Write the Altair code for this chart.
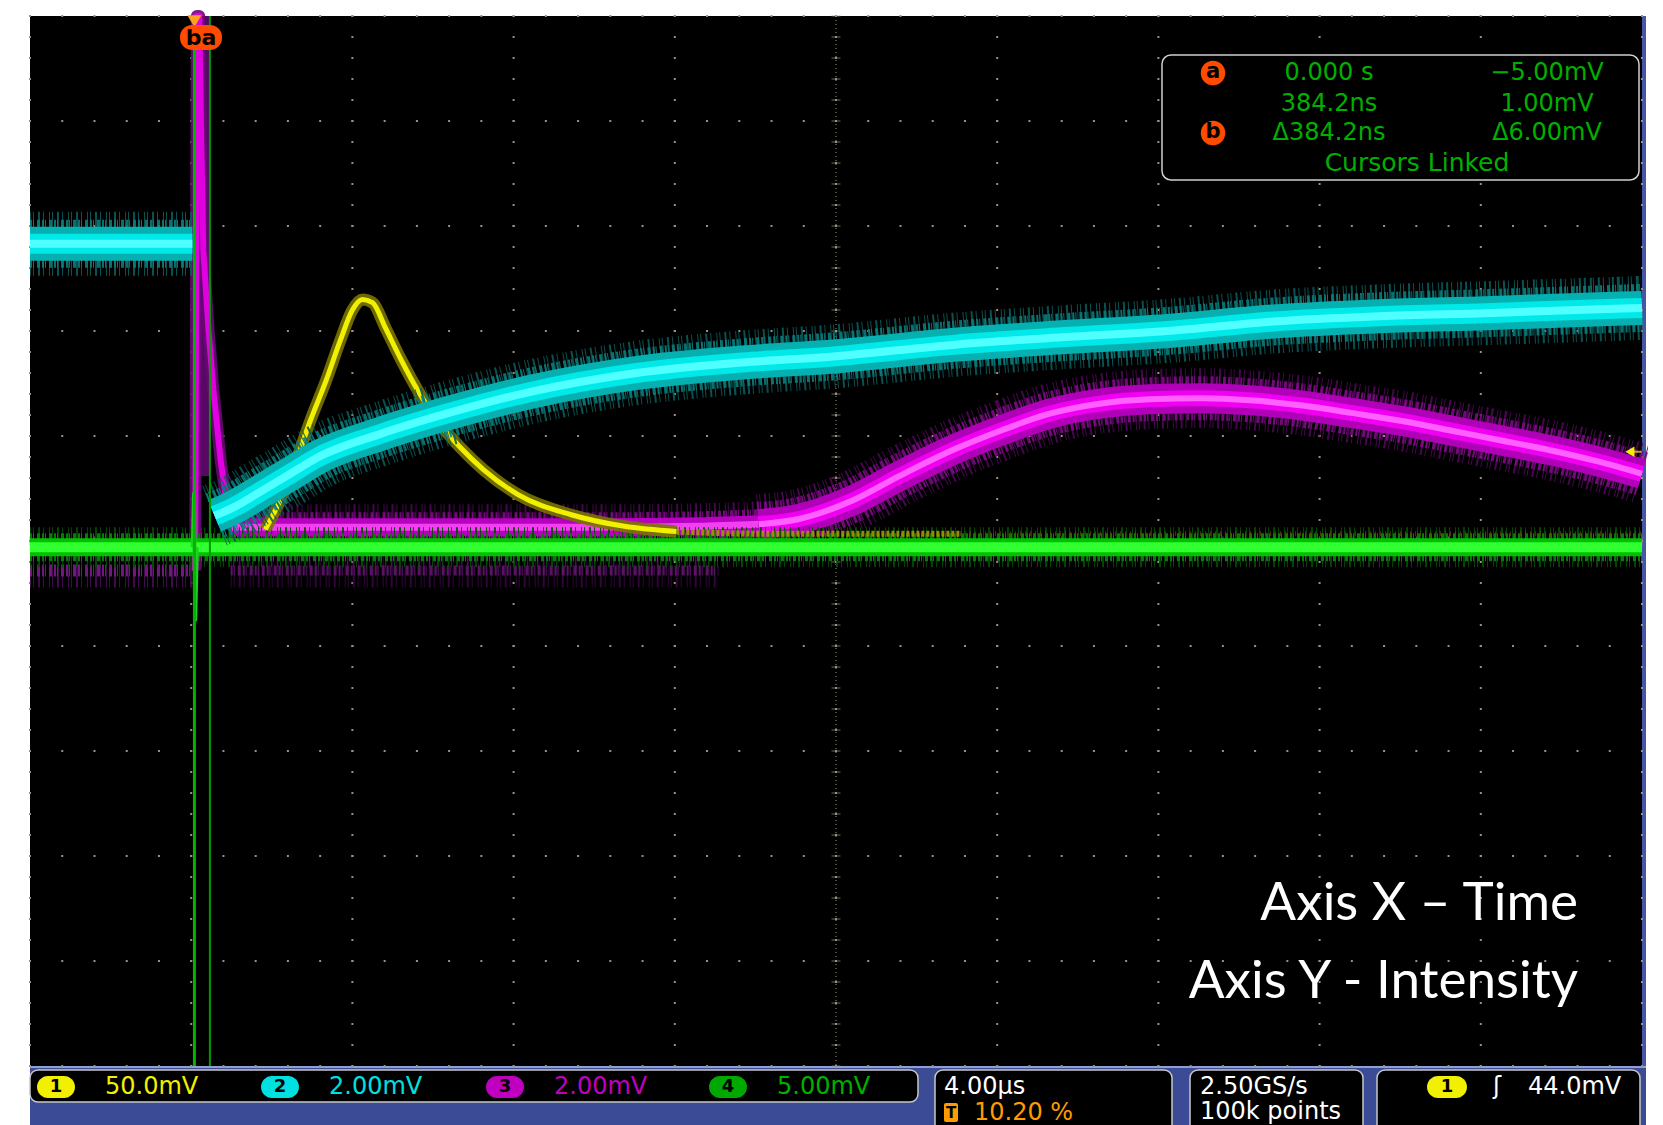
import altair as alt
import pandas as pd

# ---------------- values read from the oscilloscope screen ----------------
# time in microseconds (4.00 us/div, trigger at 10.20 %), amplitude in divisions
T_MIN, T_MAX = -4.08, 35.92
V_MIN, V_MAX = -5.0, 5.0

# channel 1 (yellow)
ch1_t = [1.76, 2.13, 2.51, 2.88, 3.25, 3.62, 3.92, 4.17, 4.42, 4.74, 5.11,
         5.61, 6.10, 6.60, 7.17, 8.04, 9.35, 10.67, 11.96]
ch1_v = [0.11, 0.39, 0.75, 1.15, 1.51, 1.91, 2.20, 2.30, 2.27, 2.03, 1.74,
         1.39, 1.11, 0.89, 0.68, 0.44, 0.25, 0.14, 0.09]
ch1_tail_t = [11.96, 14.00, 16.50, 19.00]
ch1_tail_v = [0.09, 0.07, 0.07, 0.07]
ch1_faint_t = [19.00, 27.00, 35.92]
ch1_faint_v = [0.07, 0.07, 0.07]

# channel 2 (cyan)
ch2_pre_t = [-4.08, -2.00, -0.05]
ch2_pre_v = [2.83, 2.83, 2.83]
ch2_t = [0.50, 0.97, 1.64, 2.38, 3.08, 4.62, 6.23, 8.34, 10.97, 13.60, 15.93, 18.88,
         21.51, 24.14, 26.77, 29.40, 32.04, 35.92]
ch2_v = [0.24, 0.32, 0.47, 0.64, 0.80, 1.02, 1.21, 1.42, 1.60, 1.70, 1.76, 1.87,
         1.94, 2.00, 2.09, 2.14, 2.17, 2.22]

# channel 3 (magenta)
ch3_pre_t = [-4.08, -2.00, -0.05]
ch3_pre_v = [-0.28, -0.28, -0.28]
ch3_ghost_t = [0.90, 6.00, 13.00]
ch3_ghost_v = [-0.28, -0.28, -0.28]
ch3_spike_t = [0.02, 0.06, 0.12, 0.17, 0.22, 0.35, 0.47, 0.65, 0.79, 0.92, 1.10]
ch3_spike_v = [-0.28, 5.00, 5.00, 3.80, 2.77, 2.01, 1.44, 0.77, 0.39, 0.15, 0.13]
ch3_t = [0.92, 5.0, 10.0, 12.5, 14.0, 15.0, 16.3, 17.5, 18.9, 20.0, 21.2, 22.5,
         23.7, 25.0, 26.2, 27.5, 28.7, 30.0, 31.2, 32.4, 33.7, 34.8, 35.92]
ch3_v = [0.13, 0.13, 0.13, 0.14, 0.16, 0.21, 0.38, 0.62, 0.88, 1.05, 1.21, 1.31,
         1.35, 1.36, 1.34, 1.29, 1.22, 1.14, 1.05, 0.96, 0.86, 0.76, 0.64]
ch3_split = 4  # index where the wide, bright part of the band starts

# channel 4 (green)
ch4_t = [-4.08, 5.0, 15.0, 25.0, 35.92]
ch4_v = [-0.06, -0.06, -0.06, -0.06, -0.06]
ch4_spike_t = [-0.04, -0.01, 0.02, 0.06]
ch4_spike_v = [-0.06, 0.45, -0.75, -0.06]

# cursors, trigger
cursor_t = [0.0, 0.3842]
trigger_level_v = [0.85]

# readouts
readout_time = ["0.000 s", "384.2ns", "\u0394384.2ns"]
readout_volt = ["\u22125.00mV", "1.00mV", "\u03946.00mV"]
readout_foot = "Cursors Linked"
ch_names = ["1", "2", "3", "4"]
ch_scales = ["50.0mV", "2.00mV", "2.00mV", "5.00mV"]
timebase = "4.00\u00b5s"
trig_pos = "10.20 %"
sample_rate = "2.50GS/s"
rec_len = "100k points"
trig_value = "44.0mV"
note_lines = ["Axis X \u2013 Time", "Axis Y - Intensity"]

# ---------------- styling ----------------
W, H = 1612, 1050
GRID = "#9a927e"
ONE = pd.DataFrame({"k": [0]})
FUZZ_A = [1, 2, 1, 4, 2, 3, 1, 5]
FUZZ_B = [2, 1, 1, 3, 3, 2]


def X():
    return alt.X("t:Q", scale=alt.Scale(domain=[T_MIN, T_MAX], nice=False, zero=False), axis=None)


def Y():
    return alt.Y("v:Q", scale=alt.Scale(domain=[V_MIN, V_MAX], nice=False, zero=False), axis=None)


def trace(t, v, styles, interp="monotone"):
    df = pd.DataFrame({"t": t, "v": v})
    out = []
    for w, c, o, d in styles:
        kw = dict(color=c, strokeWidth=w, opacity=o, strokeCap="butt",
                  strokeJoin="round", interpolate=interp)
        if d:
            kw["strokeDash"] = d
        out.append(alt.Chart(df).mark_line(**kw).encode(x=X(), y=Y()))
    return out


def deco_rect(x0, x1, y0, y1, **kw):
    return alt.Chart(ONE).mark_rect(**kw).encode(
        x=alt.value(x0), x2=alt.value(x1), y=alt.value(y0), y2=alt.value(y1))


def deco_text(s, x, y, color, size, align="left", font="DejaVu Sans", weight="normal"):
    return alt.Chart(ONE).mark_text(align=align, baseline="middle", font=font,
                                    fontSize=size, fontWeight=weight, color=color).encode(
        x=alt.value(x), y=alt.value(y), text=alt.value(s))


layers = []

# frame & background
layers.append(deco_rect(0, W + 4, H, H + 70, color="#3b4b96"))
layers.append(deco_rect(0, W + 4, H, H + 2, color="#8f9fd6"))
layers.append(deco_rect(W, W + 4, 0, H, color="#4656a6"))
layers.append(deco_rect(0, W, 0, H, color="black"))

# graticule
major_t = [T_MIN + 4 * i for i in range(11)]
major_v = [V_MIN + i for i in range(11)]
minor_t = [T_MIN + 0.8 * i for i in range(51)]
minor_v = [V_MIN + 0.2 * i for i in range(51)]
dots = [(a, b) for a in major_t for b in minor_v] + [(a, b) for b in major_v for a in minor_t]
dots_df = pd.DataFrame(dots, columns=["t", "v"])
layers.append(alt.Chart(dots_df).mark_square(size=4, color=GRID, opacity=1).encode(x=X(), y=Y()))
center_t = T_MIN + 20.0
layers.append(alt.Chart(pd.DataFrame({"t": [center_t]})).mark_rule(
    color=GRID, strokeWidth=1, strokeDash=[1, 3]).encode(x=X()))
layers.append(alt.Chart(pd.DataFrame({"v": [0.0]})).mark_rule(
    color=GRID, strokeWidth=1, strokeDash=[1, 3]).encode(y=Y()))
layers.append(alt.Chart(pd.DataFrame({"t": [center_t] * 51, "v": minor_v})).mark_tick(
    orient="horizontal", size=9, thickness=1, color=GRID).encode(x=X(), y=Y()))
layers.append(alt.Chart(pd.DataFrame({"t": minor_t, "v": [0.0] * 51})).mark_tick(
    orient="vertical", size=9, thickness=1, color=GRID).encode(x=X(), y=Y()))

# channel 3 (magenta)
MAG_LOW = [(34, "#4a0a56", 0.9, FUZZ_A), (12, "#7a1a8a", 0.9, FUZZ_B)]
MAG_FLAT = [(46, "#4e0856", 0.9, FUZZ_A), (30, "#7e0a86", 0.9, FUZZ_B),
            (18, "#b800c0", 1, None), (7, "#f040f0", 1, None)]
MAG = [(60, "#4e0856", 0.9, FUZZ_A), (44, "#7e0a86", 0.9, FUZZ_B),
       (30, "#b000b8", 1, None), (16, "#f000f0", 1, None), (6, "#ff60ff", 1, None)]
MAG_SPIKE = [(12, "#6a0874", 0.9, None), (6, "#e000e0", 1, None)]
layers += trace(ch3_pre_t, ch3_pre_v, MAG_LOW)
layers += trace(ch3_ghost_t, ch3_ghost_v, [(34, "#3e0848", 0.8, FUZZ_A), (10, "#6a1878", 0.8, FUZZ_B)])
layers.append(deco_rect(166, 180, 0, 460, color="#560864"))
layers += trace(ch3_spike_t, ch3_spike_v, MAG_SPIKE, interp="linear")
layers += trace(ch3_t[:ch3_split + 1], ch3_v[:ch3_split + 1], MAG_FLAT)
layers += trace(ch3_t[ch3_split:], ch3_v[ch3_split:], MAG)

# channel 4 (green)
GRN = [(40, "#064a06", 0.9, FUZZ_A), (28, "#0a780a", 1, FUZZ_B),
       (18, "#00c000", 1, None), (10, "#30ff30", 1, None)]
layers += trace(ch4_t, ch4_v, GRN, interp="linear")
layers += trace(ch4_spike_t, ch4_spike_v, [(4, "#20d020", 1, None)], interp="linear")

# channel 1 (yellow)
layers += trace(ch1_faint_t, ch1_faint_v, [(5, "#5a4c00", 0.8, [1, 4])], interp="linear")
layers += trace(ch1_tail_t, ch1_tail_v, [(6, "#a09a00", 0.9, [3, 2])])
layers += trace(ch1_t, ch1_v, [(12, "#7a7400", 0.9, None), (5, "#f0f000", 1, None)])

# channel 2 (cyan)
CYAN = [(64, "#0b5a5a", 0.9, FUZZ_A), (48, "#0a7c7c", 0.9, FUZZ_B),
        (34, "#06b0b0", 1, None), (20, "#00e8e8", 1, None), (8, "#50ffff", 1, None)]
layers += trace(ch2_pre_t, ch2_pre_v, CYAN, interp="linear")
layers += trace(ch2_t, ch2_v, CYAN)

# cursors
cur = pd.DataFrame({"t": cursor_t})
layers.append(alt.Chart(cur.iloc[[0]]).mark_rule(color="#00b400", strokeWidth=3).encode(x=X()))
layers.append(alt.Chart(cur.iloc[[1]]).mark_rule(color="#009a00", strokeWidth=2).encode(x=X()))

# trigger position marker and cursor label
layers.append(alt.Chart(pd.DataFrame({"t": [0.0], "v": [4.95]})).mark_point(
    shape="triangle-down", filled=True, size=200, color="#ffa020", opacity=1).encode(x=X(), y=Y()))
layers.append(deco_rect(150, 192, 9, 34, color="#ff4a00", cornerRadius=12))
layers.append(deco_text("ba", 171, 22, "black", 22, align="center", weight="bold"))

# trigger level arrow
trig_df = pd.DataFrame({"t": [35.62], "v": trigger_level_v})
layers.append(alt.Chart(trig_df).mark_point(
    shape="triangle-left", filled=True, size=110, color="#f0f000", opacity=1).encode(x=X(), y=Y()))
layers.append(alt.Chart(pd.DataFrame({"t": [35.80], "v": trigger_level_v})).mark_tick(
    orient="horizontal", size=9, thickness=2, color="#f0f000").encode(x=X(), y=Y()))

# cursor readout box
layers.append(deco_rect(1132, 1609, 39, 164, fill="black", stroke="#d0d0d0",
                        strokeWidth=1.5, cornerRadius=9))
TXT_G = "#00b000"
rows_y = [57, 88, 117]
for i in range(3):
    layers.append(deco_text(readout_time[i], 1299, rows_y[i], TXT_G, 24, align="center"))
    layers.append(deco_text(readout_volt[i], 1517, rows_y[i], TXT_G, 24, align="center"))
layers.append(deco_text(readout_foot, 1387, 147, TXT_G, 25, align="center"))
for lab, yy in (("a", 57), ("b", 117)):
    layers.append(alt.Chart(ONE).mark_circle(size=600, color="#ff4a00", opacity=1).encode(
        x=alt.value(1183), y=alt.value(yy)))
    layers.append(deco_text(lab, 1183, yy - 1, "black", 21, align="center", weight="bold"))

# note text
layers.append(deco_text(note_lines[0], 1548, 888, "white", 53, align="right", font="Lato"))
layers.append(deco_text(note_lines[1], 1548, 966, "white", 53, align="right", font="Lato"))

# status bar
layers.append(deco_rect(0, 888, 1054, 1086, fill="black", stroke="#c8c8c8",
                        strokeWidth=1.5, cornerRadius=8))
badge_fill = ["#f0f000", "#00e0e0", "#c000c0", "#00a800"]
text_col = ["#f0f000", "#00e0e0", "#c000c0", "#00b000"]
badge_cx = [26, 250, 475, 698]
BAR_FS = 24
for i in range(4):
    cx = badge_cx[i]
    layers.append(deco_rect(cx - 19, cx + 19, 1060, 1082, color=badge_fill[i], cornerRadius=11))
    layers.append(deco_text(ch_names[i], cx, 1071, "black", 18, align="center", weight="bold"))
    layers.append(deco_text(ch_scales[i], cx + 49, 1071, text_col[i], BAR_FS))

for x0, x1 in ((905, 1142), (1160, 1333), (1347, 1610)):
    layers.append(deco_rect(x0, x1, 1054, 1130, fill="black", stroke="#c8c8c8",
                            strokeWidth=1.5, cornerRadius=8))
layers.append(deco_text(timebase, 914, 1071, "white", BAR_FS))
layers.append(deco_rect(914, 928, 1087, 1106, color="#ff9a00", cornerRadius=2))
layers.append(deco_text("T", 921, 1097, "black", 15, align="center", weight="bold"))
layers.append(deco_text(trig_pos, 944, 1097, "#ff9a00", BAR_FS))
layers.append(deco_text(sample_rate, 1170, 1071, "white", BAR_FS))
layers.append(deco_text(rec_len, 1170, 1096, "white", BAR_FS))
layers.append(deco_rect(1397, 1437, 1060, 1082, color="#f0f000", cornerRadius=11))
layers.append(deco_text("1", 1417, 1071, "black", 18, align="center", weight="bold"))
layers.append(deco_text("\u0283", 1467, 1071, "white", 24, align="center"))
layers.append(deco_text(trig_value, 1498, 1071, "white", BAR_FS))

chart = alt.layer(*layers).properties(
    width=W, height=H,
    padding={"left": 22, "top": 8, "right": 6, "bottom": 62},
    autosize=alt.AutoSizeParams(type="none"),
    background="white",
).configure_view(strokeWidth=0)

chart.save("out.html", embed_options={"renderer": "svg", "actions": False})
